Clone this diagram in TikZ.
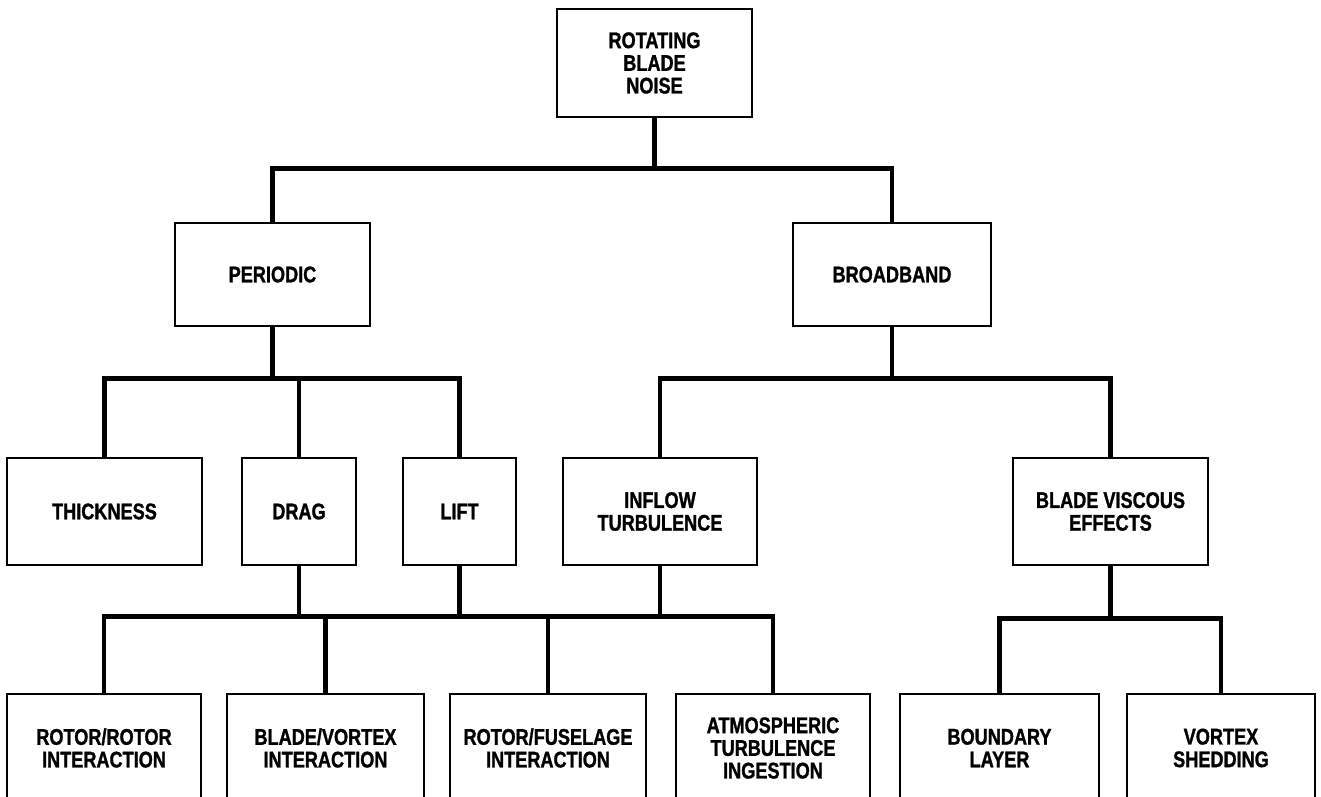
\documentclass[tikz,border=0pt]{standalone}
\usepackage{fontspec}
\setmainfont{Liberation Sans}[FakeStretch=0.8,BoldFeatures={FakeBold=1.2}]

\tikzset{box/.style={draw,line width=1.5pt,align=center,inner sep=0pt,
    font=\bfseries\fontsize{12.9}{12.9}\selectfont,minimum width=#1},
  box/.default=3.9cm}
\tikzset{link/.style={line width=2.5pt}}

\begin{document}
\begin{tikzpicture}[x=0.02cm,y=-0.02cm]
    \useasboundingbox (0,0) rectangle (1321,797);
    \clip (0,0) rectangle (1321,797);
    % top of the tree
    \node[box,minimum height=2.16cm] (noise) at (654.5,63) {ROTATING\\BLADE\\NOISE};
    % second level
    \node[box,minimum height=2.06cm] (periodic) at (272.5,274.5) {PERIODIC};
    \node[box=3.96cm,minimum height=2.06cm] (broadband) at (892,274.5) {BROADBAND};
    % third level
    \node[box,minimum height=2.14cm] (thickness) at (104.5,511.5) {THICKNESS};
    \node[box=2.28cm,minimum height=2.14cm] (drag) at (299,511.5) {DRAG};
    \node[box=2.26cm,minimum height=2.14cm] (lift) at (459.5,511.5) {LIFT};
    \node[box=3.88cm,minimum height=2.14cm] (inflow) at (660,511.5) {INFLOW\\TURBULENCE};
    \node[box,minimum height=2.14cm] (viscous) at (1110.5,511.5) {BLADE VISCOUS\\EFFECTS};
    % bottom row, runs off the lower edge
    \node[box=3.88cm,minimum height=2.16cm] (rotorrotor) at (104,748) {ROTOR/ROTOR\\INTERACTION};
    \node[box=3.94cm,minimum height=2.16cm] (bladevortex) at (325.5,748) {BLADE/VORTEX\\INTERACTION};
    \node[box=3.92cm,minimum height=2.16cm] (rotorfuselage) at (548,748) {ROTOR/FUSELAGE\\INTERACTION};
    \node[box=3.88cm,minimum height=2.16cm] (atmos) at (773,748) {ATMOSPHERIC\\TURBULENCE\\INGESTION};
    \node[box=3.98cm,minimum height=2.16cm] (boundary) at (999.5,748) {BOUNDARY\\LAYER};
    \node[box=3.76cm,minimum height=2.16cm] (shedding) at (1221,748) {VORTEX\\SHEDDING};

    % periodic / broadband split
    \draw[link] (noise.south) -- ++(0,50) coordinate (split);
    \draw[link] (periodic.north) |- (split) -| (broadband.north);
    % periodic sources
    \draw[link] (periodic.south) -- ++(0,51) coordinate (persplit);
    \draw[link] (thickness.north) |- (persplit) -| (lift.north);
    \draw[link] (drag.north) -- (drag.north |- persplit);
    % broadband sources
    \draw[link] (broadband.south) -- ++(0,51) coordinate (bbsplit);
    \draw[link] (inflow.north) |- (bbsplit) -| (viscous.north);
    % interaction mechanisms
    \draw[link] (drag.south) -- ++(0,50) coordinate (mech);
    \draw[link] (lift.south) -- (lift.south |- mech);
    \draw[link] (inflow.south) -- (inflow.south |- mech);
    \draw[link] (rotorrotor.north) |- (mech) -| (atmos.north);
    \draw[link] (bladevortex.north) -- (bladevortex.north |- mech);
    \draw[link] (rotorfuselage.north) -- (rotorfuselage.north |- mech);
    % viscous mechanisms
    \draw[link] (viscous.south) -- ++(0,52) coordinate (vissplit);
    \draw[link] (boundary.north) |- (vissplit) -| (shedding.north);
\end{tikzpicture}
\end{document}
